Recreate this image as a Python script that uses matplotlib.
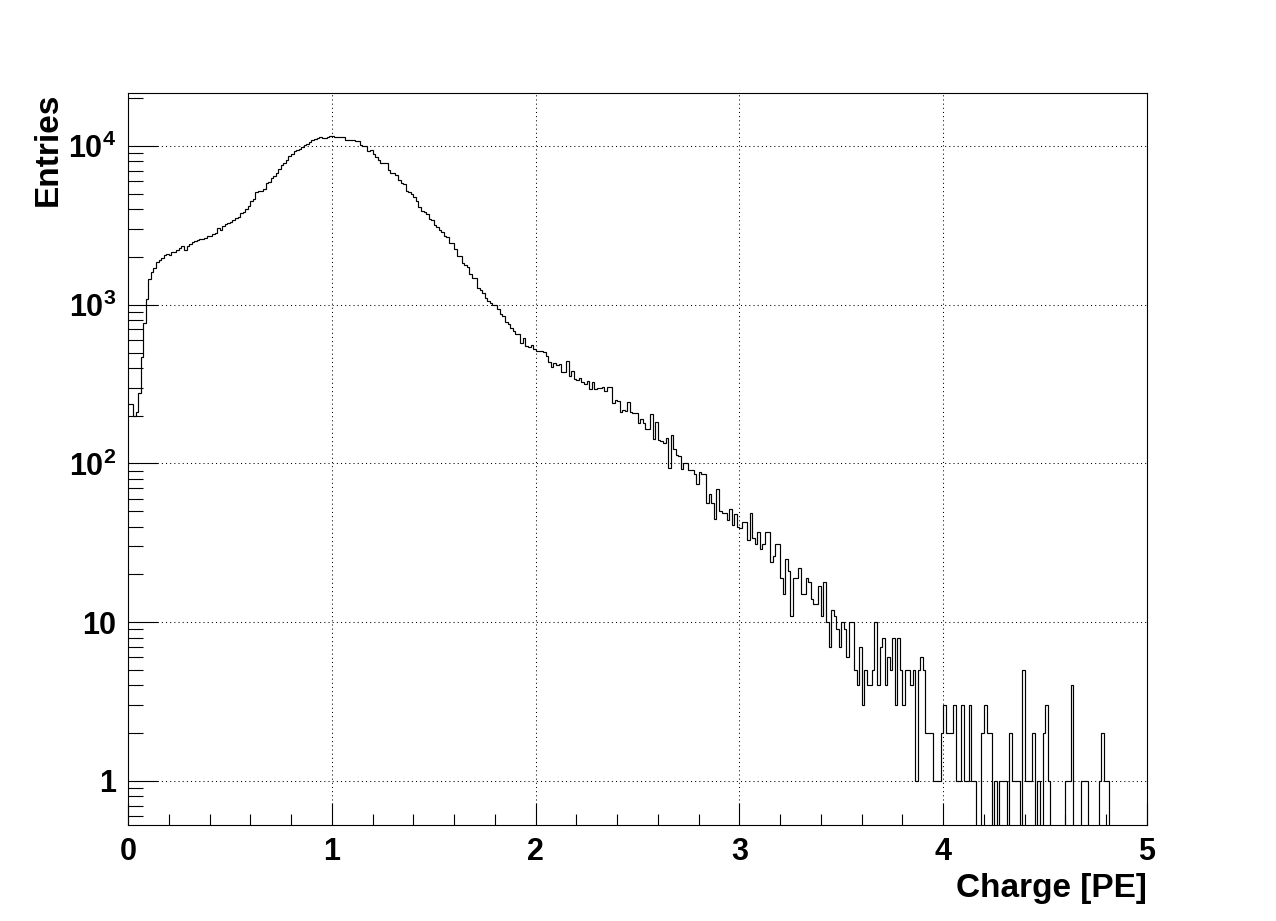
import numpy as np
import matplotlib.pyplot as plt
from matplotlib.ticker import FixedLocator, MultipleLocator, LogLocator, NullFormatter

plt.rcParams['font.family'] = ['Liberation Sans', 'DejaVu Sans']
plt.rcParams['font.weight'] = 'bold'
plt.rcParams['mathtext.fontset'] = 'custom'
plt.rcParams['mathtext.rm'] = 'Liberation Sans:bold'
plt.rcParams['mathtext.bf'] = 'Liberation Sans:bold'
plt.rcParams['mathtext.default'] = 'bf'

# histogram: 400 bins of 0.0125 PE between 0 and 5 (entries per bin)
counts_0_1 = [238, 238, 199, 210, 277, 470, 763, 1092, 1460, 1607,
              1714, 1849, 1923, 1963, 2060, 2100, 2070, 2140, 2160, 2205,
              2290, 2360, 2225, 2360, 2405, 2475, 2535, 2575, 2600, 2610,
              2625, 2705, 2717, 2795, 2850, 3065, 2946, 3125, 3215, 3265,
              3327, 3425, 3543, 3595, 3775, 3866, 4020, 4180, 4477, 4650,
              5100, 5175, 5230, 5380, 5870, 5930, 6310, 6500, 6750, 7130,
              7590, 7850, 8200, 8610, 8900, 9250, 9430, 9570, 9810, 10100,
              10300, 10650, 10860, 11070, 11170, 11350, 11240, 11300, 11400, 11510]
counts_1_2 = [11560, 11400, 11400, 11400, 11400, 10860, 10860, 10860, 10860, 10750,
              10700, 10200, 10000, 9950, 9350, 9430, 8860, 8570, 8200, 7850,
              7820, 7800, 7050, 6795, 6730, 6530, 6100, 5810, 5725, 5230,
              5150, 4980, 4745, 4477, 4140, 3905, 3830, 3720, 3480, 3410,
              3185, 3095, 2946, 2876, 2730, 2690, 2465, 2465, 2260, 2020,
              2020, 1842, 1790, 1722, 1563, 1482, 1482, 1280, 1244, 1186,
              1097, 1060, 1030, 1000, 1000, 939, 869, 853, 781, 759,
              713, 679, 659, 650, 575, 619, 546, 541, 559, 525]
counts_2_3 = [515, 510, 512, 504, 476, 439, 406, 430, 420, 424,
              379, 379, 443, 354, 381, 343, 336, 346, 325, 317,
              333, 295, 327, 295, 298, 299, 302, 286, 302, 302,
              240, 250, 249, 212, 217, 214, 243, 210, 207, 207,
              181, 190, 181, 166, 166, 204, 143, 183, 140, 138,
              134, 144, 94, 152, 123, 113, 112, 93, 100, 100,
              91, 91, 86, 74, 89, 86, 86, 56, 64, 56,
              45, 69, 50, 49, 49, 44, 52, 41, 48, 40]
counts_3_4 = [39, 43, 43, 33, 49, 34, 31, 37, 29, 31,
              37, 37, 24, 26, 31, 31, 19, 15, 25, 21,
              11, 19, 19, 22, 15, 15, 19, 18, 14, 13,
              13, 17, 11, 18, 10, 7, 12, 11, 9, 7,
              10, 9, 6, 10, 10, 5, 4, 7, 3, 5,
              4, 4, 5, 10, 4, 7, 8, 4, 6, 5,
              8, 3, 8, 5, 3, 5, 5, 4, 5, 1,
              5, 6, 5, 2, 2, 2, 1, 1, 1, 2]
counts_4_5 = [3, 2, 2, 2, 3, 1, 1, 3, 1, 1,
              3, 1, 1, 0, 0, 2, 3, 2, 2, 0,
              1, 0, 1, 1, 1, 0, 2, 1, 1, 1,
              0, 5, 1, 1, 1, 2, 0, 1, 0, 2,
              3, 1, 0, 0, 0, 0, 0, 0, 1, 1,
              4, 0, 0, 0, 1, 1, 1, 0, 0, 0,
              0, 1, 2, 1, 1, 0, 0, 0, 0, 0,
              0, 0, 0, 0, 0, 0, 0, 0, 0, 0]

x_range = [0, 5]
y_range = [0.528, 21580]
y_ticks = [1, 10, 100, 1000, 10000]
y_tick_labels = ['1', '10', r'$10^{2}$', r'$10^{3}$', r'$10^{4}$']
x_ticks = [0, 1, 2, 3, 4, 5]
x_label = 'Charge [PE]'
y_label = 'Entries'

counts = np.array(counts_0_1 + counts_1_2 + counts_2_3 + counts_3_4 + counts_4_5, dtype=float)
edges = np.linspace(x_range[0], x_range[1], len(counts) + 1)
# empty bins drop to the bottom of the frame, like ROOT on a log axis
shown = np.where(counts > 0, counts, 1e-3)

fig = plt.figure(figsize=(12.76, 9.21), dpi=100)
ax = fig.add_axes([128 / 1276, 1 - 825 / 921, (1147 - 128) / 1276, (825 - 93) / 921])

ax.stairs(shown, edges, color='black', linewidth=0.85, baseline=None)

ax.set_xlim(x_range)
ax.set_yscale('log')
ax.set_ylim(y_range)

ax.xaxis.set_major_locator(FixedLocator(x_ticks))
ax.xaxis.set_minor_locator(MultipleLocator(0.2))
ax.yaxis.set_major_locator(FixedLocator(y_ticks))
ax.set_yticklabels(y_tick_labels)
ax.yaxis.set_minor_locator(LogLocator(base=10, subs=np.arange(2, 10)))
ax.yaxis.set_minor_formatter(NullFormatter())

ax.tick_params(axis='both', which='both', direction='in', top=False, right=False,
               width=0.8, colors='black', labelsize=22)
ax.tick_params(axis='x', which='major', length=15.8, pad=9)
ax.tick_params(axis='x', which='minor', length=7.9)
ax.tick_params(axis='y', which='major', length=21.6, pad=8.5)
ax.tick_params(axis='y', which='minor', length=10.8)

for sp in ax.spines.values():
    sp.set_linewidth(0.8)
    sp.set_color('black')

ax.grid(which='major', color='black', linestyle=(0, (1, 3)), linewidth=0.75)

ax.set_xlabel(x_label, loc='right', fontsize=24, fontweight='bold', labelpad=4)
ax.set_ylabel(y_label, loc='top', fontsize=24, fontweight='bold', labelpad=3)

fig.savefig('out.png', dpi=100)
